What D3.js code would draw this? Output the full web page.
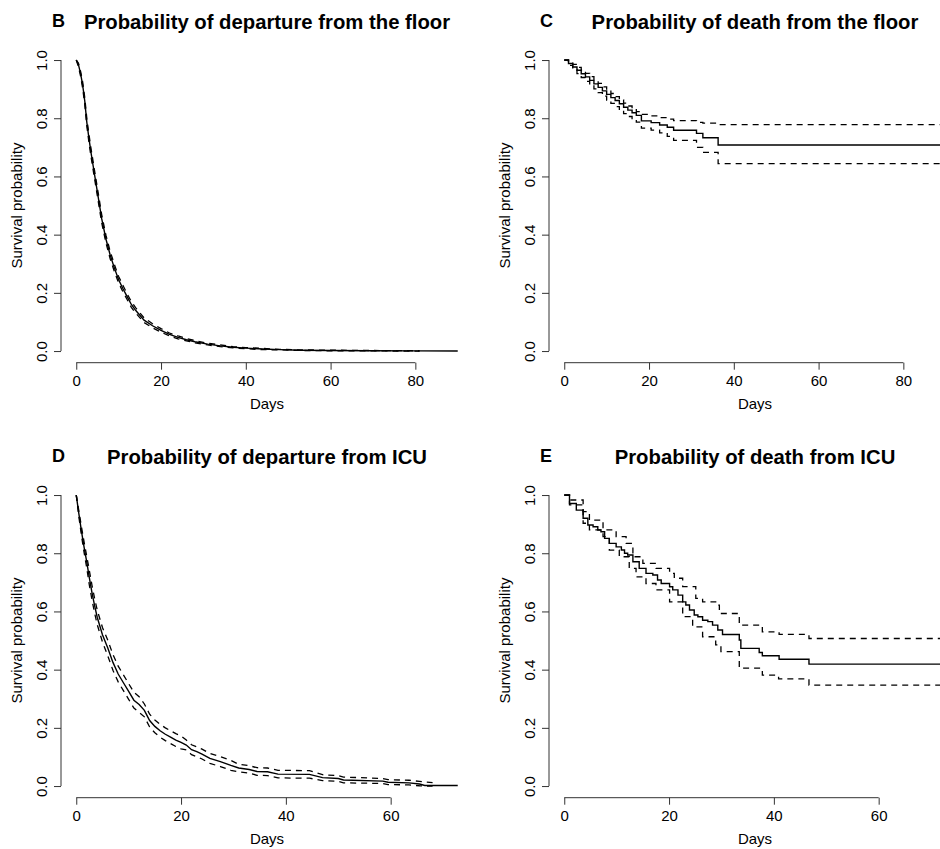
<html>
<head>
<meta charset="utf-8">
<script src="https://d3js.org/d3.v7.min.js"></script>
<style>
 body { margin: 0; background: #fff; }
 text { font-family: "Liberation Sans", Arial, sans-serif; fill: #000; }
</style>
</head>
<body>
<svg width="940" height="849"></svg>
<script>
// B - departure from the floor (dense events, drawn as a smooth line)
var floorDepDays  = [0, 0.5, 1, 1.5, 2, 2.5, 3, 3.5, 4, 4.5, 5, 5.5, 6, 7, 8, 9, 10, 11, 12, 13, 14, 16, 18, 20, 22, 24, 26, 28, 31, 34, 37, 40, 44, 48, 53, 60, 69, 80, 90];
var floorDepSurv  = [1.0, 0.985, 0.955, 0.915, 0.86, 0.785, 0.73, 0.68, 0.635, 0.59, 0.545, 0.50, 0.455, 0.385, 0.33, 0.285, 0.245, 0.215, 0.187, 0.16, 0.14, 0.106, 0.087, 0.071, 0.057, 0.047, 0.039, 0.032, 0.024, 0.018, 0.013, 0.010, 0.007, 0.005, 0.003, 0.002, 0.001, 0.0005, 0.0];
var floorDepCiDays = [0, 0.5, 1, 1.5, 2, 2.5, 3, 3.5, 4, 4.5, 5, 5.5, 6, 7, 8, 9, 10, 11, 12, 13, 14, 16, 18, 20, 22, 24, 26, 28, 31, 34, 37, 40, 44, 48, 53, 60, 69, 81];
var floorDepUpper = [1.0, 0.99, 0.963, 0.926, 0.872, 0.798, 0.744, 0.694, 0.649, 0.604, 0.559, 0.514, 0.469, 0.398, 0.343, 0.297, 0.256, 0.226, 0.197, 0.170, 0.149, 0.114, 0.094, 0.077, 0.062, 0.052, 0.043, 0.036, 0.027, 0.021, 0.015, 0.012, 0.009, 0.006, 0.004, 0.003, 0.002, 0.001];
var floorDepLower = [1.0, 0.978, 0.946, 0.904, 0.848, 0.772, 0.716, 0.666, 0.621, 0.576, 0.531, 0.486, 0.441, 0.372, 0.317, 0.273, 0.234, 0.204, 0.177, 0.150, 0.131, 0.098, 0.080, 0.065, 0.052, 0.042, 0.035, 0.028, 0.021, 0.015, 0.011, 0.008, 0.005, 0.004, 0.002, 0.001, 0.0005, 0.0];

// C - death from the floor (step function)
var floorDeathDays  = [0, 1, 2, 3, 4, 5, 6, 7, 8, 9, 10, 11, 12, 13, 14, 15, 16, 17, 18.2, 20.5, 22.5, 24.3, 25.8, 31.2, 32.7, 36.3, 90];
var floorDeathSurv  = [1.0, 0.988, 0.976, 0.965, 0.953, 0.942, 0.93, 0.918, 0.906, 0.894, 0.882, 0.871, 0.861, 0.85, 0.838, 0.828, 0.819, 0.81, 0.791, 0.785, 0.777, 0.769, 0.759, 0.748, 0.733, 0.708, 0.708];
var floorDeathUpper = [1.0, 0.993, 0.985, 0.975, 0.965, 0.954, 0.943, 0.932, 0.92, 0.908, 0.896, 0.885, 0.874, 0.863, 0.852, 0.842, 0.832, 0.823, 0.813, 0.808, 0.802, 0.797, 0.792, 0.786, 0.783, 0.778, 0.778];
var floorDeathLower = [1.0, 0.982, 0.967, 0.953, 0.94, 0.927, 0.914, 0.901, 0.888, 0.876, 0.862, 0.851, 0.84, 0.828, 0.816, 0.806, 0.796, 0.787, 0.766, 0.759, 0.75, 0.738, 0.724, 0.70, 0.683, 0.644, 0.644];

// D - departure from ICU
var icuDepDays  = [0, 0.5, 1, 1.5, 2, 2.5, 3, 3.5, 4, 4.5, 5, 6, 7, 8, 9, 10, 11, 12, 13, 14, 15, 16, 17, 18, 19, 20, 21, 22, 23, 24, 25.5, 27.5, 29.5, 31, 33, 34.5, 36.5, 38.5, 44.5, 47, 50, 51, 58.5, 59.5, 63.5, 65.5, 66.5, 72.8];
var icuDepSurv  = [1.0, 0.935, 0.875, 0.82, 0.77, 0.715, 0.665, 0.62, 0.58, 0.55, 0.52, 0.475, 0.425, 0.385, 0.355, 0.325, 0.295, 0.28, 0.26, 0.225, 0.205, 0.19, 0.178, 0.168, 0.158, 0.15, 0.141, 0.125, 0.118, 0.11, 0.095, 0.084, 0.071, 0.062, 0.057, 0.05, 0.049, 0.041, 0.04, 0.029, 0.026, 0.021, 0.017, 0.013, 0.011, 0.007, 0.002, 0.002];
var icuDepCiDays = [0, 0.5, 1, 1.5, 2, 2.5, 3, 3.5, 4, 4.5, 5, 6, 7, 8, 9, 10, 11, 12, 13, 14, 15, 16, 17, 18, 19, 20, 21, 22, 23, 24, 25.5, 27.5, 29.5, 31, 33, 34.5, 36.5, 38.5, 44.5, 47, 50, 51, 58.5, 59.5, 63.5, 65.5, 66.5, 68];
var icuDepUpper = [1.0, 0.945, 0.89, 0.838, 0.79, 0.74, 0.69, 0.645, 0.605, 0.575, 0.545, 0.502, 0.452, 0.412, 0.382, 0.352, 0.322, 0.307, 0.282, 0.247, 0.227, 0.212, 0.2, 0.19, 0.18, 0.172, 0.158, 0.142, 0.135, 0.127, 0.112, 0.101, 0.088, 0.075, 0.07, 0.063, 0.062, 0.054, 0.053, 0.039, 0.036, 0.031, 0.026, 0.022, 0.02, 0.016, 0.014, 0.012];
var icuDepLower = [1.0, 0.925, 0.86, 0.802, 0.75, 0.69, 0.64, 0.595, 0.555, 0.525, 0.495, 0.448, 0.398, 0.358, 0.328, 0.298, 0.268, 0.253, 0.238, 0.203, 0.183, 0.168, 0.156, 0.146, 0.136, 0.128, 0.124, 0.108, 0.101, 0.093, 0.078, 0.067, 0.054, 0.049, 0.044, 0.037, 0.036, 0.028, 0.027, 0.019, 0.016, 0.011, 0.009, 0.005, 0.004, 0.001, 0.0, 0.0];

// E - death from ICU (step function)
var icuDeathDays = [0, 1, 2.3, 3.6, 4.5, 5.5, 6.4, 7, 7.7, 8.6, 9.9, 10.9, 11.5, 12.1, 13.1, 14.3, 15.6, 16.9, 17.8, 18.5, 20.1, 20.7, 21.7, 22.6, 23.2, 23.9, 24.8, 25.5, 26.4, 27.4, 28.3, 29.3, 30.2, 33.4, 33.7, 37.2, 37.8, 41, 46.7, 75];
var icuDeathSurv = [1.0, 0.971, 0.948, 0.92, 0.897, 0.891, 0.88, 0.874, 0.851, 0.834, 0.822, 0.811, 0.8, 0.794, 0.771, 0.748, 0.731, 0.725, 0.708, 0.696, 0.685, 0.674, 0.656, 0.633, 0.622, 0.605, 0.588, 0.582, 0.57, 0.565, 0.553, 0.536, 0.521, 0.502, 0.473, 0.459, 0.448, 0.436, 0.419, 0.419];
var icuDeathUpperDays = [0, 1, 3.6, 4.8, 7.4, 9.9, 11.8, 13.1, 15, 17.5, 20.1, 21, 22.6, 25.1, 26.4, 28.9, 29.6, 33.4, 37.8, 41, 46.7, 75];
var icuDeathUpper     = [1.0, 0.983, 0.943, 0.914, 0.88, 0.857, 0.834, 0.788, 0.765, 0.748, 0.731, 0.714, 0.685, 0.645, 0.633, 0.622, 0.593, 0.553, 0.53, 0.521, 0.507, 0.507];
var icuDeathLowerDays = [0, 1, 3.6, 4.8, 7.4, 8.6, 10.5, 12.4, 13.7, 15.6, 17.5, 20.1, 22.6, 24.5, 26.4, 28.9, 29.9, 33.4, 37.8, 40.9, 46.7, 75];
var icuDeathLower     = [1.0, 0.966, 0.903, 0.88, 0.857, 0.811, 0.788, 0.748, 0.719, 0.696, 0.674, 0.633, 0.582, 0.547, 0.513, 0.485, 0.462, 0.405, 0.381, 0.368, 0.347, 0.347];

var yTicks = [0, 0.2, 0.4, 0.6, 0.8, 1.0];

var panels = [
  {letter: "B", title: "Probability of departure from the floor", ox: 0, oy: 0, xMax: 90, xTicks: [0, 20, 40, 60, 80], curve: d3.curveLinear,
   solid: d3.zip(floorDepDays, floorDepSurv), upper: d3.zip(floorDepCiDays, floorDepUpper), lower: d3.zip(floorDepCiDays, floorDepLower)},
  {letter: "C", title: "Probability of death from the floor", ox: 488, oy: 0, xMax: 90, xTicks: [0, 20, 40, 60, 80], curve: d3.curveStepAfter,
   solid: d3.zip(floorDeathDays, floorDeathSurv), upper: d3.zip(floorDeathDays, floorDeathUpper), lower: d3.zip(floorDeathDays, floorDeathLower)},
  {letter: "D", title: "Probability of departure from ICU", ox: 0, oy: 435, xMax: 72.8, xTicks: [0, 20, 40, 60], curve: d3.curveLinear,
   solid: d3.zip(icuDepDays, icuDepSurv), upper: d3.zip(icuDepCiDays, icuDepUpper), lower: d3.zip(icuDepCiDays, icuDepLower)},
  {letter: "E", title: "Probability of death from ICU", ox: 488, oy: 435, xMax: 72.8, xTicks: [0, 20, 40, 60], curve: d3.curveStepAfter,
   solid: d3.zip(icuDeathDays, icuDeathSurv), upper: d3.zip(icuDeathUpperDays, icuDeathUpper), lower: d3.zip(icuDeathLowerDays, icuDeathLower)}
];

var svg = d3.select("svg");

panels.forEach(function(p) {
  var left = p.ox + 61, top = p.oy + 48.4, w = 412, h = 314.3;

  // R-style 4% padding around the data range
  var x = d3.scaleLinear().domain([-0.04 * p.xMax, 1.04 * p.xMax]).range([left, left + w]);
  var y = d3.scaleLinear().domain([-0.04, 1.04]).range([top + h, top]);

  var g = svg.append("g");

  // x axis
  var xg = g.append("g")
    .attr("transform", "translate(0," + (top + h) + ")")
    .call(d3.axisBottom(x).tickValues(p.xTicks).tickSize(7).tickPadding(6));
  xg.select(".domain").remove();
  xg.append("line")
    .attr("x1", x(p.xTicks[0])).attr("x2", x(p.xTicks[p.xTicks.length - 1]))
    .attr("stroke", "#333");
  xg.selectAll(".tick line").attr("stroke", "#333");
  xg.selectAll("text").style("font-size", "15px").style("font-family", "Liberation Sans, Arial, sans-serif").attr("fill", "#000");

  // y axis, labels rotated like base R
  var yg = g.append("g")
    .attr("transform", "translate(" + left + ",0)")
    .call(d3.axisLeft(y).tickValues(yTicks).tickFormat(d3.format(".1f")).tickSize(7));
  yg.select(".domain").remove();
  yg.append("line")
    .attr("y1", y(0)).attr("y2", y(1))
    .attr("stroke", "#333");
  yg.selectAll(".tick line").attr("stroke", "#333");
  yg.selectAll(".tick text")
    .attr("transform", "rotate(-90)")
    .attr("x", 0).attr("y", -14.5).attr("dy", 0)
    .attr("text-anchor", "middle")
    .style("font-size", "15px").style("font-family", "Liberation Sans, Arial, sans-serif").attr("fill", "#000");

  var line = d3.line()
    .x(function(d) { return x(d[0]); })
    .y(function(d) { return y(d[1]); })
    .curve(p.curve);

  [p.upper, p.lower].forEach(function(ci) {
    g.append("path")
      .attr("d", line(ci))
      .attr("fill", "none")
      .attr("stroke", "#000")
      .attr("stroke-width", 1.3)
      .attr("stroke-dasharray", "6,5");
  });

  g.append("path")
    .attr("d", line(p.solid))
    .attr("fill", "none")
    .attr("stroke", "#000")
    .attr("stroke-width", 1.4);

  // titles and labels
  g.append("text")
    .attr("x", left + w / 2).attr("y", p.oy + 29)
    .attr("text-anchor", "middle")
    .style("font-size", "20.3px").style("font-weight", "bold")
    .text(p.title);

  g.append("text")
    .attr("x", p.ox + 52).attr("y", p.oy + 26.5)
    .style("font-size", "18px").style("font-weight", "bold")
    .text(p.letter);

  g.append("text")
    .attr("x", left + w / 2).attr("y", top + h + 46)
    .attr("text-anchor", "middle")
    .style("font-size", "15px")
    .text("Days");

  g.append("text")
    .attr("transform", "translate(" + (p.ox + 21.5) + "," + (top + h / 2) + ") rotate(-90)")
    .attr("text-anchor", "middle")
    .style("font-size", "15px")
    .text("Survival probability");
});
</script>
</body>
</html>
